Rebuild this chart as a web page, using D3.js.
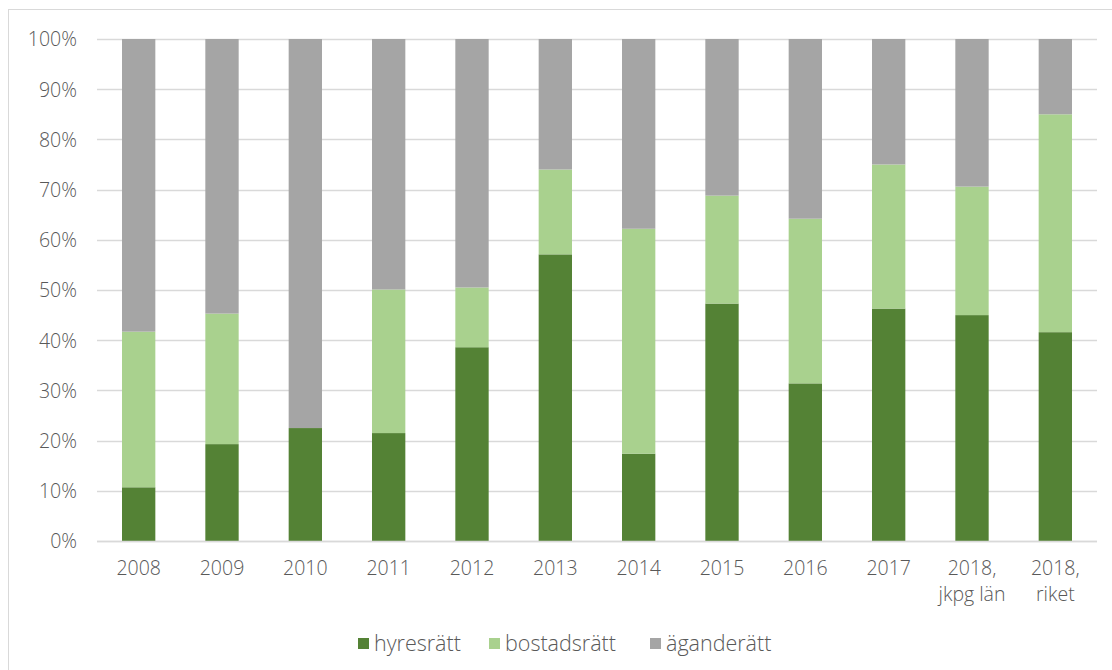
<!DOCTYPE html>
<html>
<head>
<meta charset="utf-8">
<script src="https://cdn.jsdelivr.net/npm/d3@7"></script>
<style>
  html, body { margin: 0; padding: 0; background: #fff; }
  svg { display: block; }
  text { font-family: "Open Sans", "Noto Sans", sans-serif; fill: #595959; }
</style>
</head>
<body>
<script>
const categories = ["2008", "2009", "2010", "2011", "2012", "2013", "2014", "2015", "2016", "2017", "2018,\njkpg län", "2018,\nriket"];
const seriesNames = ["hyresrätt", "bostadsrätt", "äganderätt"];
const hyresratt   = [10.7, 19.3, 22.5, 21.5, 38.6, 57.1, 17.4, 47.3, 31.4, 46.3, 45.0, 41.6];
const bostadsratt = [31.0, 26.0,  0.0, 28.6, 11.9, 16.9, 44.8, 21.5, 32.8, 28.7, 25.6, 43.4];
const aganderatt  = categories.map((c, i) => +(100 - hyresratt[i] - bostadsratt[i]).toFixed(1));
const yTicks = [0, 10, 20, 30, 40, 50, 60, 70, 80, 90, 100];
const colors = ["#548235", "#a9d18e", "#a5a5a5"];

const W = 1112, H = 670;
const plot = { left: 97, right: 1097, top: 39, bottom: 541 };

const svg = d3.select("body").append("svg").attr("width", W).attr("height", H);

// chart border
svg.append("rect").attr("x", 8.5).attr("y", 9.5).attr("width", W).attr("height", H)
  .attr("fill", "#fff").attr("stroke", "#d9d9d9").attr("stroke-width", 1);

const x = d3.scaleBand().domain(categories).range([plot.left, plot.right])
  .paddingInner(0.6).paddingOuter(0.3);
const y = d3.scaleLinear().domain([0, 100]).range([plot.bottom, plot.top]);

// gridlines
svg.append("g").selectAll("line").data(yTicks).join("line")
  .attr("x1", plot.left).attr("x2", plot.right)
  .attr("y1", d => Math.round(y(d)) + 0.5).attr("y2", d => Math.round(y(d)) + 0.5)
  .attr("stroke", "#d9d9d9").attr("stroke-width", 1.3);

// y axis labels
const yAxis = d3.axisLeft(y).tickValues(yTicks).tickFormat(d => d + "%").tickSize(0).tickPadding(0);
const yg = svg.append("g").attr("transform", `translate(77,0)`).call(yAxis);
yg.select(".domain").remove();
yg.selectAll("text").style("font-size", "19.5px").style("font-weight", 300).attr("fill", "#595959").attr("dy", "0.35em");

// stacked data
const rows = categories.map((c, i) => ({ cat: c, "hyresrätt": hyresratt[i], "bostadsrätt": bostadsratt[i], "äganderätt": aganderatt[i] }));
const stack = d3.stack().keys(seriesNames)(rows);

svg.append("g").selectAll("g").data(stack).join("g")
  .attr("fill", (d, i) => colors[i])
  .selectAll("rect").data(d => d).join("rect")
  .attr("x", d => x(d.data.cat))
  .attr("width", x.bandwidth())
  .attr("y", d => y(d[1]))
  .attr("height", d => Math.max(0, y(d[0]) - y(d[1])));

// x axis line
svg.append("line").attr("x1", plot.left).attr("x2", plot.right)
  .attr("y1", plot.bottom + 0.5).attr("y2", plot.bottom + 0.5)
  .attr("stroke", "#d9d9d9").attr("stroke-width", 1.3);

// x axis labels
const xAxis = d3.axisBottom(x).tickSize(0).tickPadding(0);
const xg = svg.append("g").attr("transform", `translate(0,${plot.bottom})`).call(xAxis);
xg.select(".domain").remove();
xg.selectAll(".tick text").each(function(d) {
  const t = d3.select(this);
  t.text(null).attr("y", 0).attr("dy", null).style("font-size", "19.5px").style("font-weight", 300).attr("fill", "#595959");
  d.split("\n").forEach((line, j) => {
    t.append("tspan").attr("x", 0).attr("y", 34 + j * 26).text(line);
  });
});

// legend
const legendItems = [
  { name: seriesNames[0], color: colors[0], x: 358 },
  { name: seriesNames[1], color: colors[1], x: 489 },
  { name: seriesNames[2], color: colors[2], x: 650 }
];
const lg = svg.append("g");
const li = lg.selectAll("g").data(legendItems).join("g")
  .attr("transform", d => `translate(${d.x},638)`);
li.append("rect").attr("width", 11).attr("height", 11).attr("fill", d => d.color);
li.append("text").attr("x", 16).attr("y", 5.5).attr("dy", "0.35em")
  .style("font-size", "21.5px").style("font-weight", 300).text(d => d.name);
</script>
</body>
</html>
